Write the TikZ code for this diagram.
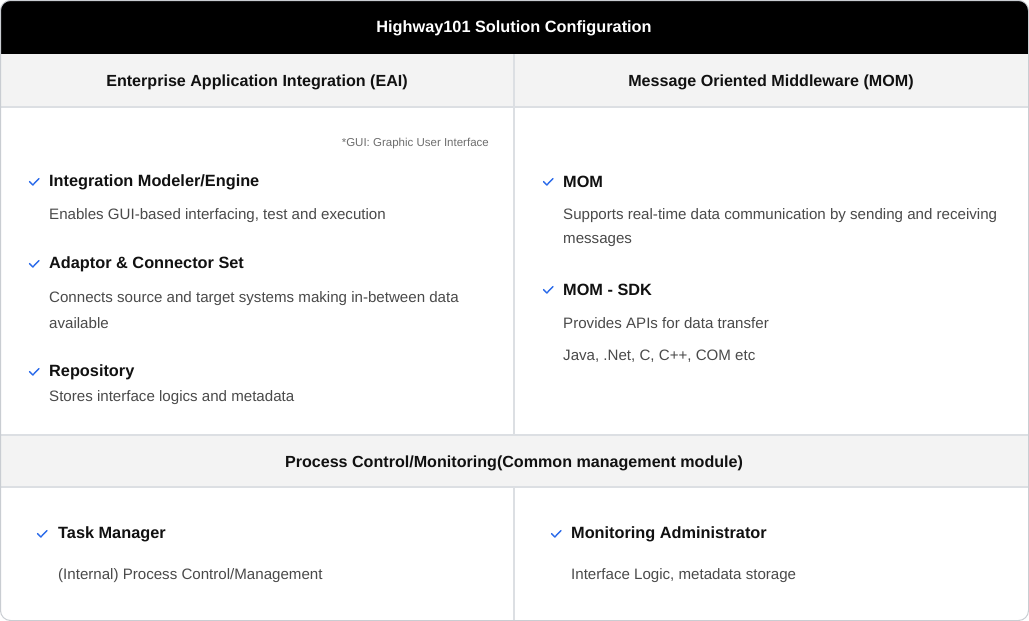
\documentclass[tikz,border=0pt]{standalone}
\usepackage{fontspec}
\setmainfont{Liberation Sans}
\definecolor{ink}{HTML}{111111}
\definecolor{body}{HTML}{4A4A4A}
\definecolor{note}{HTML}{6E6E6E}
\definecolor{band}{HTML}{F3F3F3}
\definecolor{rule}{HTML}{DCDFE3}
\definecolor{outer}{HTML}{C9CDD2}
\definecolor{tick}{HTML}{2B6BEA}
\begin{document}
\begin{tikzpicture}[x=1pt,y=-1pt,
  head/.style={font=\fontsize{16.1}{19}\selectfont\bfseries, text=ink, inner sep=0pt, yshift=-1pt},
  title/.style={font=\fontsize{16.3}{19}\selectfont\bfseries, text=white, inner sep=0pt, yshift=-1pt},
  item/.style={font=\fontsize{16.3}{19}\selectfont\bfseries, text=ink, anchor=west, inner sep=0pt, yshift=-1.2pt},
  desc/.style={font=\fontsize{15.1}{18}\selectfont, text=body, anchor=west, inner sep=0pt, yshift=-1.5pt},
  notes/.style={font=\fontsize{11.5}{13}\selectfont, text=note, anchor=east, inner sep=0pt, yshift=-1pt},
  chk/.style={draw=tick, line width=1.4pt, line cap=round, line join=round}]
\useasboundingbox (0,0) rectangle (1029,621);
\begin{scope}
\clip[rounded corners=10pt] (0.5,0.5) rectangle (1028.5,620.5);
\fill[white] (0,0) rectangle (1029,621);
\fill[black] (0,0) rectangle (1029,54);
\fill[band] (0,54) rectangle (1029,107);
\fill[band] (0,435) rectangle (1029,487);
\draw[rule, line width=1.2pt] (0,107) -- (1029,107);
\draw[rule, line width=1.2pt] (0,435) -- (1029,435);
\draw[rule, line width=1.2pt] (0,487) -- (1029,487);
\draw[rule, line width=1.2pt] (514,54) -- (514,435);
\draw[rule, line width=1.2pt] (514,487) -- (514,621);
\end{scope}
\draw[outer, line width=1pt, rounded corners=10pt] (0.5,0.5) rectangle (1028.5,620.5);

\node[title] (t) at (514,27) {Highway101 Solution Configuration};
\node[head] (eai) at (257,81) {Enterprise Application Integration (EAI)};
\node[head] (mom) at (771,81) {Message Oriented Middleware (MOM)};
\node[head] (pcm) at (514,462) {Process Control/Monitoring(Common management module)};

\node[notes] (gui) at (489,143) {*GUI: Graphic User Interface};

\newcommand{\tickat}[2]{\draw[chk] (#1-4.5,#2-0.5) -- (#1-1.2,#2+3) -- (#1+5,#2-3.5);}

\tickat{34}{182}
\node[item] (i1) at (49,181) {Integration Modeler/Engine};
\node[desc] (d1) at (49,214) {Enables GUI-based interfacing, test and execution};
\tickat{34}{264}
\node[item] (i2) at (49,263) {Adaptor \& Connector Set};
\node[desc] (d2a) at (49,297) {Connects source and target systems making in-between data};
\node[desc] (d2b) at (49,322) {available};
\tickat{34}{372}
\node[item] (i3) at (49,371) {Repository};
\node[desc] (d3) at (49,396) {Stores interface logics and metadata};

\tickat{548}{182}
\node[item] (m1) at (563,181) {MOM};
\node[desc] (e1a) at (563,214) {Supports real-time data communication by sending and receiving};
\node[desc] (e1b) at (563,240) {messages};
\tickat{548}{290}
\node[item] (m2) at (563,289) {MOM - SDK};
\node[desc] (e2a) at (563,322) {Provides APIs for data transfer};
\node[desc] (e2b) at (563,355) {Java, .Net, C, C++, COM etc};

\tickat{42}{534}
\node[item] (p1) at (58,533) {Task Manager};
\node[desc] (q1) at (58,574) {(Internal) Process Control/Management};
\tickat{556}{534}
\node[item] (p2) at (571,533) {Monitoring Administrator};
\node[desc] (q2) at (571,574) {Interface Logic, metadata storage};
\end{tikzpicture}
\end{document}
